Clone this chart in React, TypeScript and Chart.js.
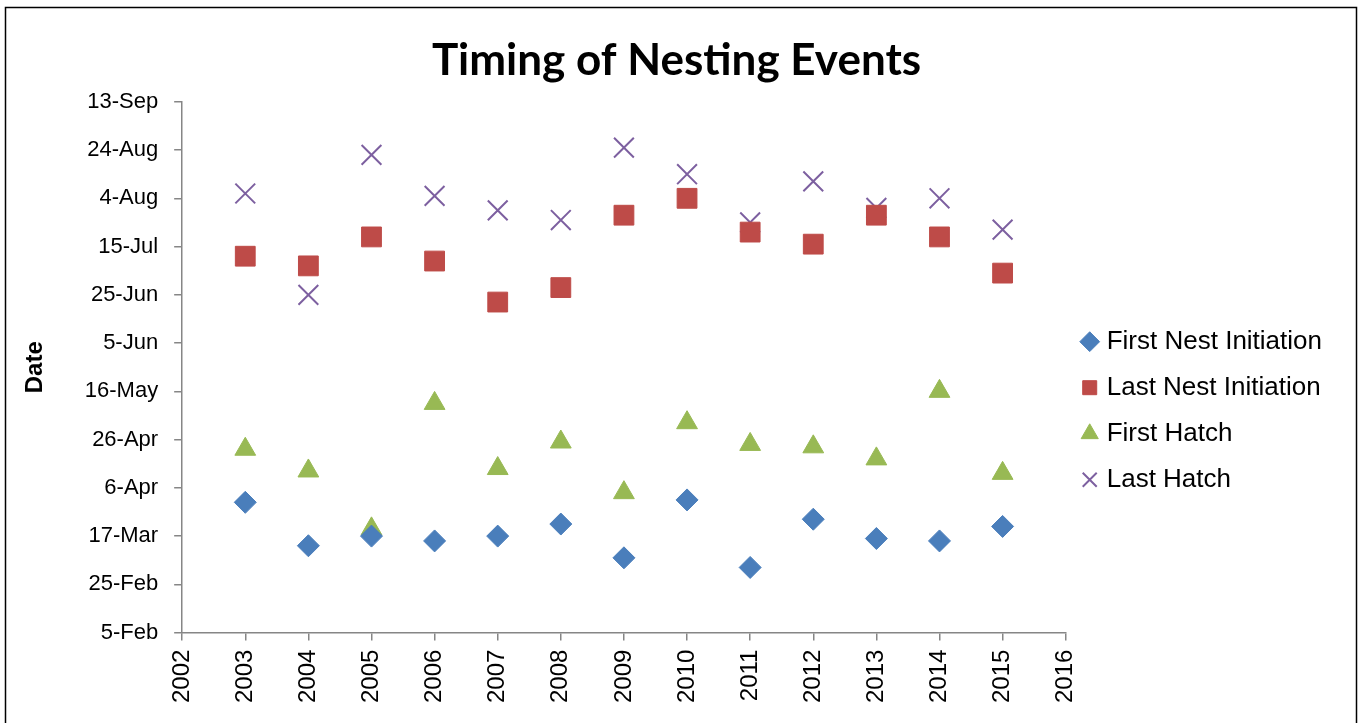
import React, { useEffect, useRef } from "react";
import { Chart, registerables } from "chart.js";

Chart.register(...registerables);

// Data: values are day-of-year (non-leap year)
const years = [2003, 2004, 2005, 2006, 2007, 2008, 2009, 2010, 2011, 2012, 2013, 2014, 2015];
const firstNestInitiation = [90, 72, 76, 74, 76, 81, 67, 91, 63, 83, 75, 74, 80];
const lastNestInitiation = [192, 188, 200, 190, 173, 179, 209, 216, 202, 197, 209, 200, 185];
const firstHatch = [112, 103, 79, 131, 104, 115, 94, 123, 114, 113, 108, 136, 102];
const lastHatch = [218, 176, 234, 217, 211, 207, 237, 226, 206, 223, 212, 216, 203];

const seriesNames = ["First Nest Initiation", "Last Nest Initiation", "First Hatch", "Last Hatch"];
const chartTitle = "Timing of Nesting Events";
const yAxisTitle = "Date";
const yMin = 36; // 5-Feb
const yMax = 256; // 13-Sep
const yStep = 20;
const xMin = 2002;
const xMax = 2016;

const monthNames = ["Jan", "Feb", "Mar", "Apr", "May", "Jun", "Jul", "Aug", "Sep", "Oct", "Nov", "Dec"];
function dayLabel(doy: number): string {
  const d = new Date(2001, 0, doy);
  return d.getDate() + "-" + monthNames[d.getMonth()];
}

const frame = {
  id: "frame",
  afterDraw(chart: any) {
    const ctx = chart.ctx;
    ctx.save();
    ctx.strokeStyle = "#000";
    ctx.lineWidth = 1.5;
    ctx.strokeRect(5.5, 7.5, chart.width - 8, chart.height + 20);
    ctx.restore();
  },
};

export default function App() {
  const ref = useRef<HTMLCanvasElement>(null);
  useEffect(() => {
    if (!ref.current) return;
    const pts = (vals: number[]) => years.map((y, i) => ({ x: y, y: vals[i] }));
    const chart = new Chart(ref.current, {
      type: "scatter",
      data: {
        datasets: [
          {
            label: seriesNames[0],
            data: pts(firstNestInitiation),
            pointStyle: "rectRot",
            pointRadius: 11,
            pointHoverRadius: 11,
            backgroundColor: "#4A7EBB",
            borderColor: "#4A7EBB",
            borderWidth: 1,
          },
          {
            label: seriesNames[1],
            data: pts(lastNestInitiation),
            pointStyle: "rect",
            pointRadius: 14,
            pointHoverRadius: 14,
            backgroundColor: "#BE4B48",
            borderColor: "#BE4B48",
            borderWidth: 1,
          },
          {
            label: seriesNames[2],
            data: pts(firstHatch),
            pointStyle: "triangle",
            pointRadius: 12,
            pointHoverRadius: 12,
            backgroundColor: "#98B954",
            borderColor: "#98B954",
            borderWidth: 1,
          },
          {
            label: seriesNames[3],
            data: pts(lastHatch),
            pointStyle: "crossRot",
            pointRadius: 14,
            pointHoverRadius: 14,
            backgroundColor: "#7D60A0",
            borderColor: "#7D60A0",
            borderWidth: 2,
          },
        ],
      },
      options: {
        responsive: false,
        animation: false,
        layout: { padding: { left: 21, right: 27, top: 0, bottom: 11 } },
        plugins: {
          title: {
            display: true,
            text: chartTitle,
            color: "#000",
            font: { family: "Lato", size: 44, weight: "bold" },
            padding: { top: 34, bottom: 15 },
          },
          legend: {
            position: "right",
            title: {
              display: true,
              text: "",
              font: { size: 12 },
              padding: { top: 47, bottom: 48 },
            },
            labels: {
              usePointStyle: true,
              boxHeight: 14,
              boxWidth: 8,
              color: "#000",
              font: { family: "Liberation Sans", size: 26 },
              padding: 20,
            },
          },
          tooltip: { enabled: false },
        },
        scales: {
          x: {
            type: "linear",
            min: xMin,
            max: xMax,
            ticks: {
              stepSize: 1,
              color: "#000",
              font: { family: "Liberation Sans", size: 24 },
              minRotation: 90,
              maxRotation: 90,
              padding: 9,
              callback: (v: any) => String(v),
            },
            grid: { drawOnChartArea: false, drawTicks: true, tickLength: 8, color: "#868686", lineWidth: 1.5 },
            border: { color: "#868686", width: 1.5 },
          },
          y: {
            type: "linear",
            min: yMin,
            max: yMax,
            ticks: {
              stepSize: yStep,
              color: "#000",
              font: { family: "Liberation Sans", size: 22 },
              padding: 16,
              callback: (v: any) => dayLabel(Number(v)),
            },
            title: {
              display: true,
              text: yAxisTitle,
              color: "#000",
              font: { family: "Liberation Sans", size: 24, weight: "bold" },
              padding: { top: 0, bottom: 19 },
            },
            grid: { drawOnChartArea: false, drawTicks: true, tickLength: 8, color: "#868686", lineWidth: 1.5 },
            border: { color: "#868686", width: 1.5 },
          },
        },
      },
      plugins: [frame],
    });
    return () => chart.destroy();
  }, []);
  return (
    <div style={{ position: "fixed", left: 0, top: 0, width: 1359, height: 723, background: "#fff" }}>
      <canvas ref={ref} width={1359} height={723} style={{ display: "block" }} />
    </div>
  );
}
